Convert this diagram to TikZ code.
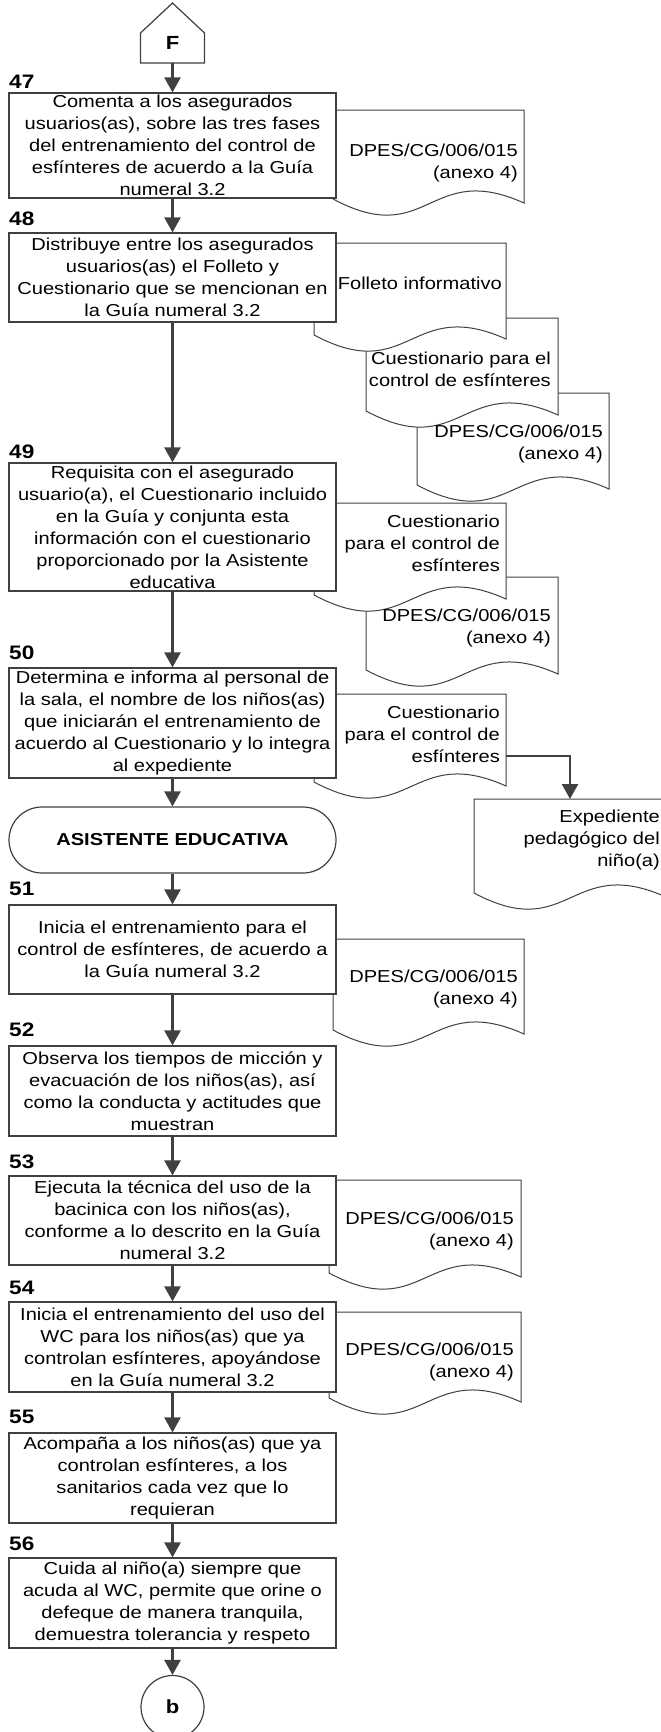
\documentclass[tikz,border=0pt]{standalone}
\usepackage{fontspec}
\setmainfont{Liberation Sans}[FakeStretch=1.16]
\usetikzlibrary{arrows.meta,calc}
\definecolor{lc}{HTML}{404040}
\newcommand{\docshape}[4]{%
  \filldraw[docline] (#1,#4) -- (#1,#2) -- (#3,#2) -- (#3,#4+4)
    .. controls ({(#1+#3)/2},#4-39) and ({(#1+#3)/2},#4+51) .. (#1,#4) -- cycle;}
\begin{document}
\begin{tikzpicture}[x=1pt,y=-1pt,
  box/.style={draw=lc, line width=1.2pt, fill=white, minimum width=327pt, align=center, inner sep=0pt, font=\fontsize{17.3}{22}\selectfont},
  term/.style={box, rounded corners=33pt, font=\fontsize{17.3}{22}\selectfont\bfseries},
  doct/.style={align=right, anchor=east, inner sep=0pt, font=\fontsize{17.3}{22}\selectfont},
  num/.style={anchor=west, inner sep=0pt, font=\fontsize{19.5}{21}\selectfont\bfseries},
  arr/.style={draw=lc, line width=2.4pt, -{Triangle[width=16pt,length=15pt]}},
  docline/.style={draw=lc, line width=1pt, fill=white},
  conn/.style={draw=lc, line width=1.2pt, fill=white},
]
\useasboundingbox (0,0) rectangle (661,1732);
\clip (0,0) rectangle (661,1732);

% off-page connector shape
\filldraw[conn] (140.5,63) -- (140.5,33) -- (172.5,3) -- (204.5,33) -- (204.5,63) -- cycle;
\node[inner sep=0pt, minimum width=64pt, minimum height=40pt, font=\fontsize{19}{20}\selectfont\bfseries] (F) at (172.5,43) {F};

% document shapes
\docshape{333}{110}{524}{199}
\docshape{417}{393}{609}{485}
\docshape{366}{318}{558}{411}
\docshape{314}{243}{506}{335}
\docshape{366}{577}{558}{670}
\docshape{314}{503}{506}{595}
\docshape{314}{694}{506}{782}
\docshape{474}{799}{666}{893}
\docshape{333}{939}{524}{1030}
\docshape{329}{1180}{521}{1273}
\docshape{329}{1312}{521}{1398}

% document texts
\node[doct] (d47) at (518,163) {DPES/CG/006/015\\(anexo 4)};
\node[doct] (d48a) at (502,283) {Folleto informativo};
\node[doct] (d48b) at (551,369) {Cuestionario para el\\control de esfínteres};
\node[doct] (d48c) at (603,444) {DPES/CG/006/015\\(anexo 4)};
\node[doct] (d49a) at (500,543) {Cuestionario\\para el control de\\esfínteres};
\node[doct] (d49b) at (551,628) {DPES/CG/006/015\\(anexo 4)};
\node[doct] (d50) at (500,734) {Cuestionario\\para el control de\\esfínteres};
\node[doct] (dexp) at (660,840) {Expediente\\pedagógico del\\niño(a)};
\node[doct] (d51) at (518,989) {DPES/CG/006/015\\(anexo 4)};
\node[doct] (d53) at (514,1231) {DPES/CG/006/015\\(anexo 4)};
\node[doct] (d54) at (514,1362) {DPES/CG/006/015\\(anexo 4)};
\coordinate (d50out) at (506,756);
\coordinate (dexpin) at (570,799);

% process boxes
\node[box, minimum height=105pt] (b47) at (172.5,145.5) {Comenta a los asegurados\\usuarios(as), sobre las tres fases\\del entrenamiento del control de\\esfínteres de acuerdo a la Guía\\numeral 3.2};
\node[box, minimum height=89pt] (b48) at (172.5,277.5) {Distribuye entre los asegurados\\usuarios(as) el Folleto y\\Cuestionario que se mencionan en\\la Guía numeral 3.2};
\node[box, minimum height=128pt] (b49) at (172.5,527) {Requisita con el asegurado\\usuario(a), el Cuestionario incluido\\en la Guía y conjunta esta\\información con el cuestionario\\proporcionado por la Asistente\\educativa};
\node[box, minimum height=110pt] (b50) at (172.5,723) {Determina e informa al personal de\\la sala, el nombre de los niños(as)\\que iniciarán el entrenamiento de\\acuerdo al Cuestionario y lo integra\\al expediente};
\node[term, minimum height=66pt] (ae) at (172.5,840) {ASISTENTE EDUCATIVA};
\node[box, minimum height=89pt] (b51) at (172.5,949.5) {Inicia el entrenamiento para el\\control de esfínteres, de acuerdo a\\la Guía numeral 3.2};
\node[box, minimum height=90pt] (b52) at (172.5,1091) {Observa los tiempos de micción y\\evacuación de los niños(as), así\\como la conducta y actitudes que\\muestran};
\node[box, minimum height=89pt] (b53) at (172.5,1220.5) {Ejecuta la técnica del uso de la\\bacinica con los niños(as),\\conforme a lo descrito en la Guía\\numeral 3.2};
\node[box, minimum height=90pt] (b54) at (172.5,1347) {Inicia el entrenamiento del uso del\\WC para los niños(as) que ya\\controlan esfínteres, apoyándose\\en la Guía numeral 3.2};
\node[box, minimum height=90pt] (b55) at (172.5,1478) {Acompaña a los niños(as) que ya\\controlan esfínteres, a los\\sanitarios cada vez que lo\\requieran};
\node[box, minimum height=90pt] (b56) at (172.5,1603) {Cuida al niño(a) siempre que\\acuda al WC, permite que orine o\\defeque de manera tranquila,\\demuestra tolerancia y respeto};
\node[circle, draw=lc, line width=1.2pt, fill=white, minimum size=63pt, inner sep=0pt, font=\fontsize{19}{20}\selectfont\bfseries] (bb) at (172.5,1707) {b};

% step numbers
\node[num] (n47) at (9,82) {47};
\node[num] (n48) at (9,219) {48};
\node[num] (n49) at (9,452) {49};
\node[num] (n50) at (9,653) {50};
\node[num] (n51) at (9,889) {51};
\node[num] (n52) at (9,1030) {52};
\node[num] (n53) at (9,1162) {53};
\node[num] (n54) at (9,1288) {54};
\node[num] (n55) at (9,1417) {55};
\node[num] (n56) at (9,1544) {56};

% arrows
\draw[arr] (F.south) -- (b47.north);
\draw[arr] (b47.south) -- (b48.north);
\draw[arr] (b48.south) -- (b49.north);
\draw[arr] (b49.south) -- (b50.north);
\draw[arr] (b50.south) -- (ae.north);
\draw[arr] (ae.south) -- (b51.north);
\draw[arr] (b51.south) -- (b52.north);
\draw[arr] (b52.south) -- (b53.north);
\draw[arr] (b53.south) -- (b54.north);
\draw[arr] (b54.south) -- (b55.north);
\draw[arr] (b55.south) -- (b56.north);
\draw[arr] (b56.south) -- (bb.north);
\draw[arr] (d50out) -| (dexpin);
\end{tikzpicture}
\end{document}
